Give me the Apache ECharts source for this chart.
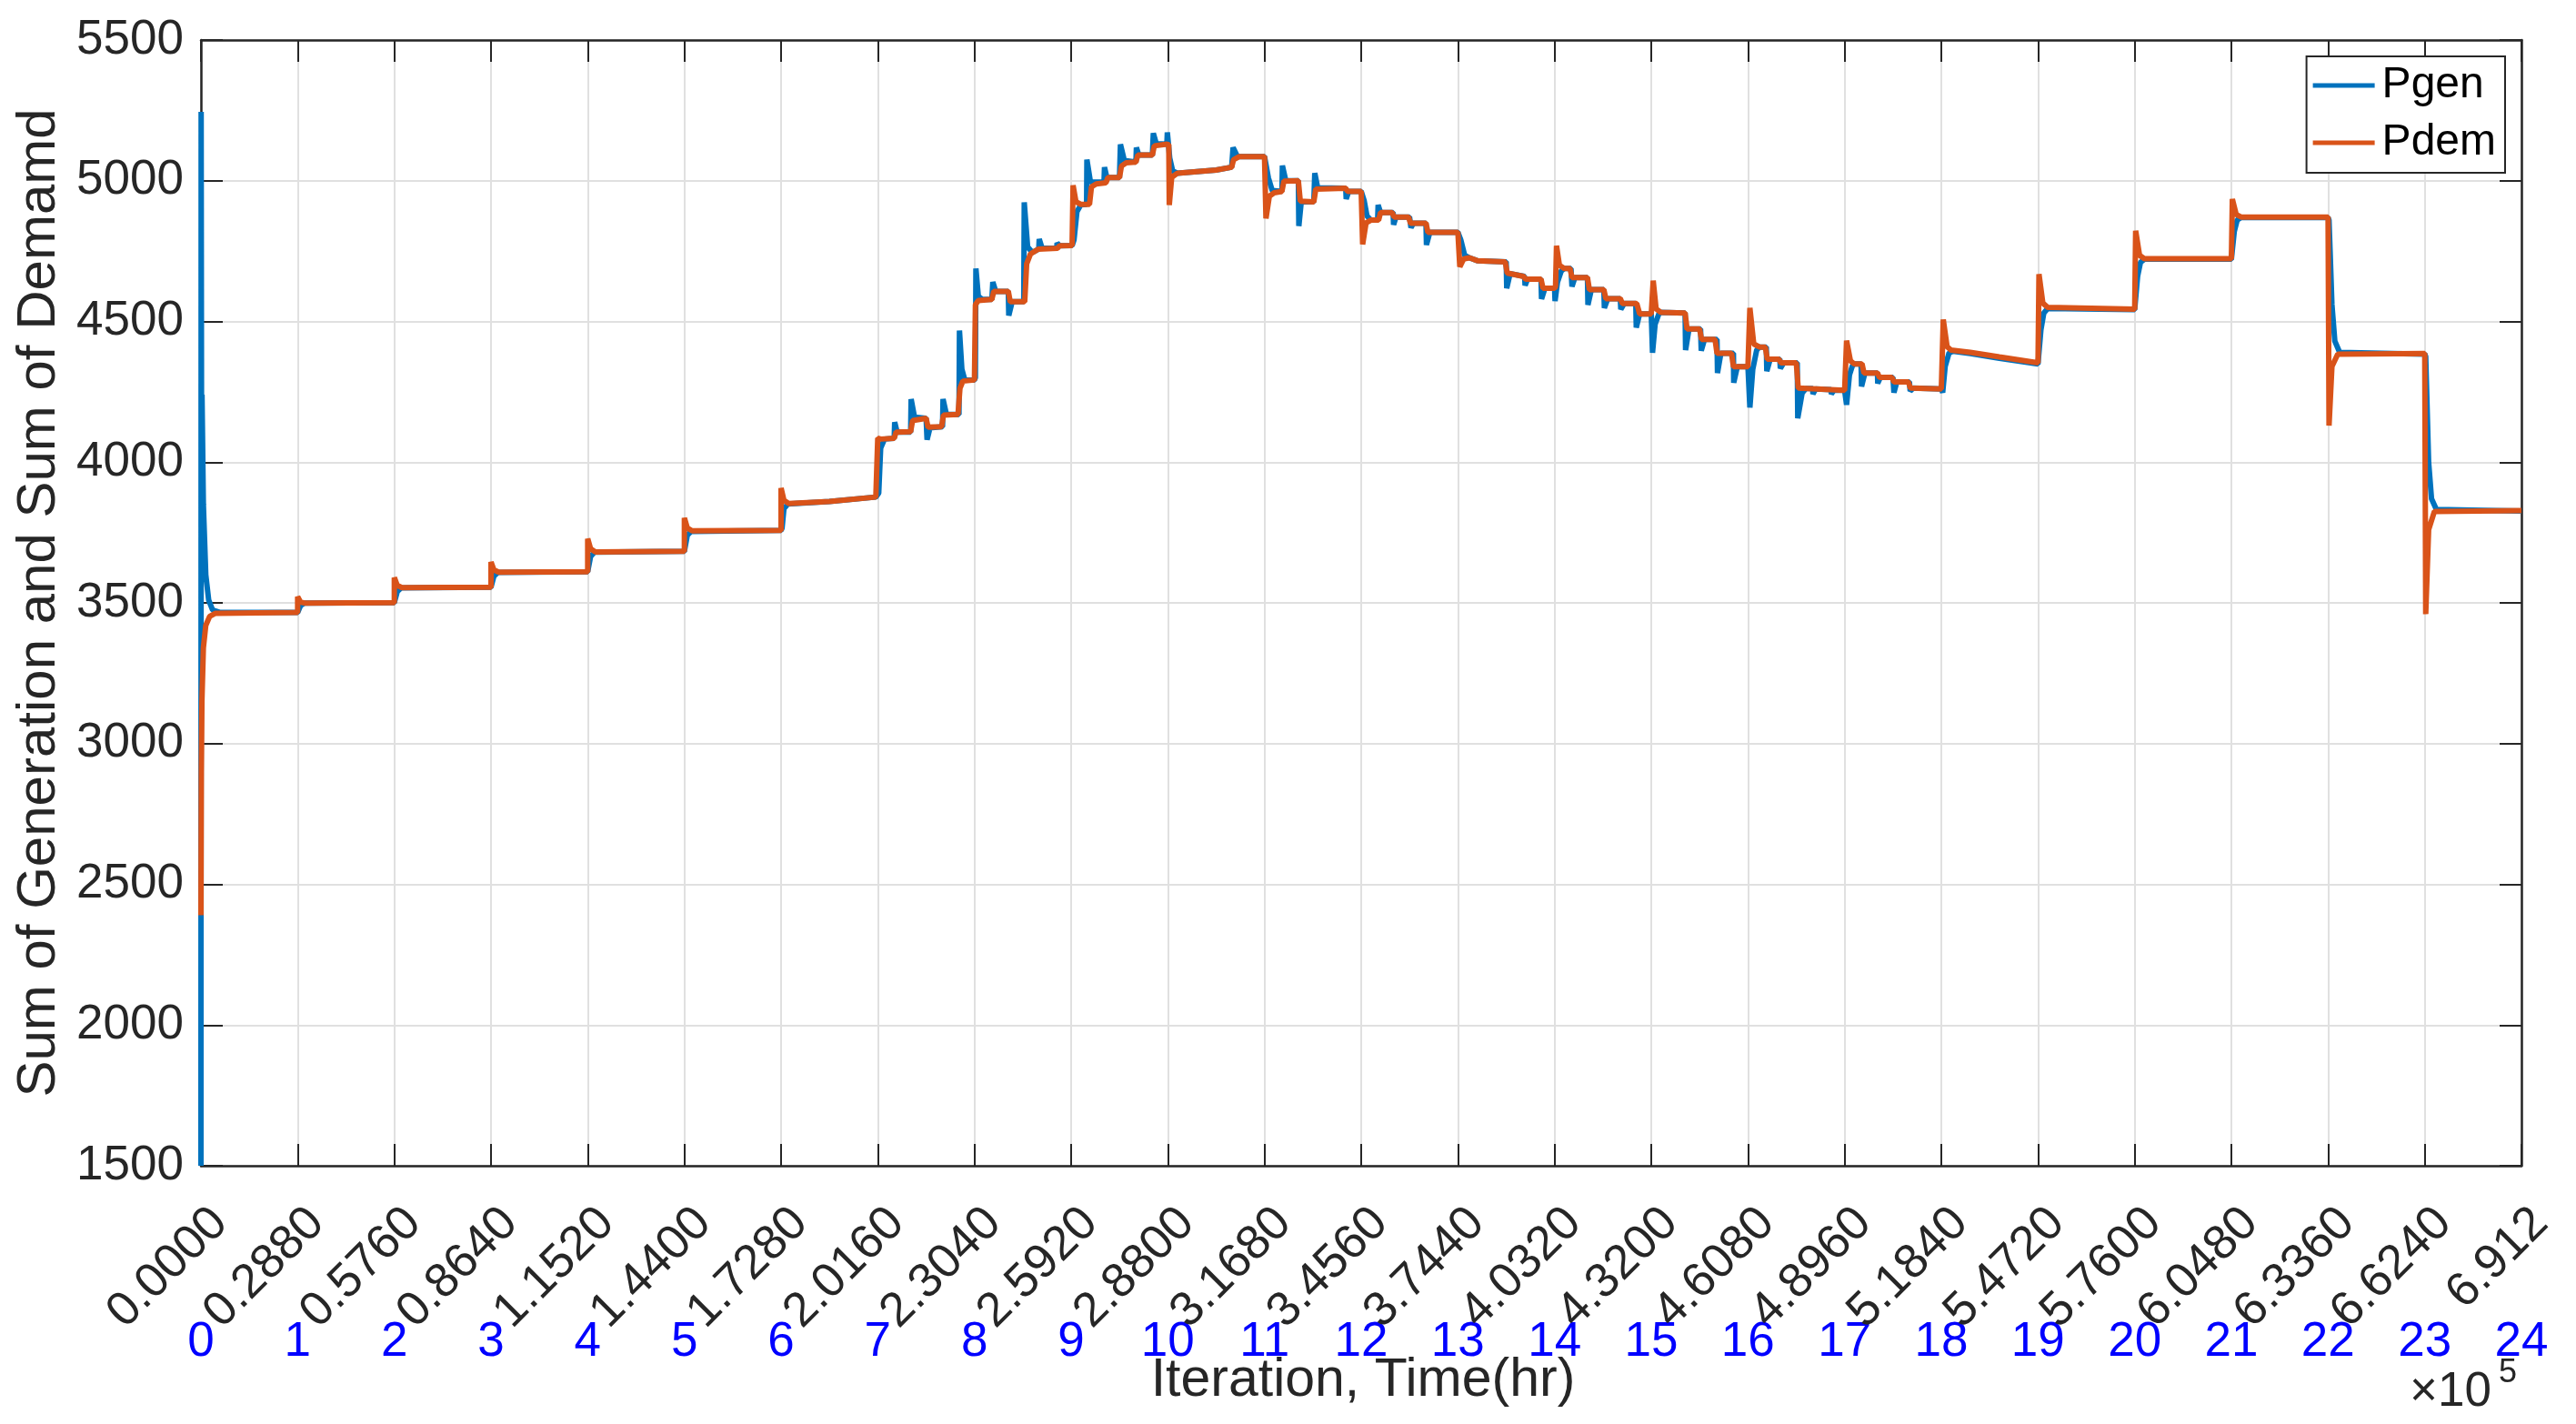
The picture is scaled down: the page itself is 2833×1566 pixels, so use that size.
<!DOCTYPE html>
<html>
<head>
<meta charset="utf-8">
<script src="https://cdn.jsdelivr.net/npm/echarts@6/dist/echarts.min.js"></script>
<style>
html,body{margin:0;padding:0;background:#fff;}
#chart{width:2833px;height:1566px;}
</style>
</head>
<body>
<div id="chart"></div>
<script>
// Tick labels (iterations x 1e5) and hour labels
const iterLabels = ["0.0000","0.2880","0.5760","0.8640","1.1520","1.4400","1.7280","2.0160","2.3040","2.5920","2.8800","3.1680","3.4560","3.7440","4.0320","4.3200","4.6080","4.8960","5.1840","5.4720","5.7600","6.0480","6.3360","6.6240","6.912"];
const hourLabels = ["0","1","2","3","4","5","6","7","8","9","10","11","12","13","14","15","16","17","18","19","20","21","22","23","24"];
const yTicks = [1500, 2000, 2500, 3000, 3500, 4000, 4500, 5000, 5500];

// Pgen: [time (hr), value]
const pgenPoints = [
[0,1500],[0.002,5245],[0.007,3900],[0.011,4240],[0.025,3850],[0.05,3600],[0.08,3510],[0.12,3475],[0.2,3466],[1.0,3466],
[1.01,3470],[1.03,3490],[1.07,3499],[2.0,3501],
[2.01,3505],[2.03,3540],[2.07,3553],[3.0,3556],
[3.01,3560],[3.03,3595],[3.07,3608],[4.0,3611],
[4.01,3615],[4.03,3665],[4.07,3680],[5.0,3683],
[5.01,3688],[5.03,3740],[5.07,3754],[6.0,3758],
[6.01,3765],[6.03,3835],[6.07,3851],[6.5,3860],[6.98,3876],
[7.01,3890],[7.03,4050],[7.07,4082],[7.17,4085],[7.175,4142],[7.2,4107],[7.34,4107],[7.345,4224],[7.38,4160],[7.5,4156],[7.51,4080],[7.54,4122],[7.67,4126],[7.675,4224],[7.71,4170],[7.84,4170],[7.845,4468],[7.87,4330],[7.9,4292],[8.0,4292],
[8.01,4300],[8.015,4688],[8.04,4590],[8.08,4578],[8.18,4578],[8.19,4640],[8.22,4607],[8.35,4607],[8.355,4521],[8.39,4570],[8.51,4570],[8.515,4923],[8.55,4765],[8.6,4745],[8.665,4757],[8.67,4793],[8.7,4760],[8.85,4760],[8.855,4779],[8.88,4769],[9.01,4770],
[9.03,4790],[9.06,4890],[9.1,4914],[9.16,4916],[9.163,5075],[9.2,4995],[9.34,4995],[9.345,5048],[9.37,5011],[9.5,5011],[9.51,5129],[9.55,5072],[9.67,5066],[9.675,5118],[9.7,5091],[9.84,5091],[9.85,5169],[9.88,5132],[9.99,5130],[9.995,5172],[10.02,5080],[10.05,5035],[10.1,5027],[10.5,5038],[10.66,5048],[10.675,5118],[10.72,5086],[11.0,5086],
[11.01,5086],[11.04,5010],[11.08,4965],[11.18,4962],[11.185,5054],[11.22,5000],[11.35,5000],[11.355,4839],[11.38,4925],[11.51,4925],[11.52,5027],[11.55,4975],[11.84,4973],[11.845,4935],[11.87,4962],[12.0,4962],
[12.01,4962],[12.03,4930],[12.06,4875],[12.1,4860],[12.17,4860],[12.175,4914],[12.2,4887],[12.33,4887],[12.335,4844],[12.36,4871],[12.5,4871],[12.515,4833],[12.54,4849],[12.67,4849],[12.675,4772],[12.71,4817],[13.0,4817],
[13.01,4817],[13.03,4790],[13.07,4735],[13.12,4726],[13.2,4716],[13.5,4712],[13.505,4618],[13.54,4670],[13.69,4660],[13.695,4628],[13.72,4650],[13.86,4650],[13.865,4580],[13.9,4618],[14.0,4618],[14.005,4572],
[14.03,4640],[14.07,4680],[14.1,4688],[14.17,4688],[14.18,4624],[14.21,4656],[14.34,4656],[14.345,4559],[14.38,4613],[14.51,4613],[14.515,4548],[14.55,4581],[14.68,4581],[14.685,4543],[14.72,4564],[14.84,4564],[14.845,4478],[14.88,4527],[15.0,4527],[15.013,4389],
[15.04,4490],[15.08,4528],[15.1,4532],[15.35,4530],[15.355,4398],[15.39,4473],[15.51,4473],[15.517,4396],[15.55,4436],[15.68,4436],[15.685,4317],[15.72,4387],[15.85,4387],[15.853,4282],[15.89,4339],[16.0,4339],[16.02,4194],
[16.05,4330],[16.09,4398],[16.12,4409],[16.19,4409],[16.195,4323],[16.23,4366],[16.33,4366],[16.335,4333],[16.37,4353],[16.51,4353],[16.515,4156],[16.56,4245],[16.6,4262],[16.67,4262],[16.672,4242],[16.7,4260],[16.86,4258],[16.862,4242],[16.89,4256],[17.0,4255],[17.02,4204],
[17.05,4310],[17.08,4342],[17.1,4349],[17.17,4349],[17.175,4269],[17.21,4317],[17.34,4317],[17.342,4280],[17.37,4301],[17.5,4301],[17.51,4247],[17.54,4285],[17.67,4285],[17.678,4253],[17.71,4263],[18.0,4260],[18.014,4247],
[18.04,4340],[18.08,4388],[18.12,4394],[18.3,4386],[18.6,4369],[19.0,4349],
[19.01,4352],[19.03,4470],[19.06,4530],[19.1,4546],[20.0,4542],
[20.01,4545],[20.03,4660],[20.06,4710],[20.1,4721],[21.0,4721],
[21.01,4724],[21.03,4820],[21.06,4860],[21.1,4869],[22.0,4869],
[22.01,4860],[22.04,4560],[22.07,4430],[22.12,4390],[23.0,4384],
[23.01,4375],[23.04,4000],[23.07,3870],[23.12,3832],[24.0,3826]
];

// Pdem: [time (hr), value]
const pdemPoints = [
[0,2390],[0.004,2900],[0.01,3150],[0.025,3340],[0.05,3420],[0.09,3452],[0.15,3463],[1.0,3466],
[1.0,3522],[1.03,3503],[1.08,3499],[2.0,3501],
[2.0,3590],[2.03,3562],[2.08,3554],[3.0,3556],
[3.0,3645],[3.03,3617],[3.08,3609],[4.0,3611],
[4.0,3728],[4.03,3692],[4.08,3681],[5.0,3683],
[5.0,3802],[5.03,3766],[5.08,3756],[6.0,3758],
[6.0,3908],[6.03,3864],[6.08,3853],[6.5,3860],[6.98,3876],
[7.0,4085],[7.03,4082],[7.17,4085],[7.19,4107],[7.34,4108],[7.36,4148],[7.5,4156],[7.52,4124],[7.66,4126],[7.68,4167],[7.83,4170],[7.85,4262],[7.88,4288],[8.0,4292],
[8.01,4560],[8.04,4574],[8.18,4578],[8.2,4607],[8.35,4607],[8.37,4570],[8.52,4570],[8.54,4705],[8.58,4740],[8.66,4757],[8.86,4760],[8.88,4769],[9.01,4770],
[9.02,4984],[9.05,4925],[9.1,4916],[9.19,4916],[9.21,4978],[9.26,4989],[9.36,4993],[9.38,5011],[9.5,5011],[9.52,5052],[9.57,5064],[9.67,5066],[9.69,5091],[9.84,5091],[9.86,5124],[9.99,5130],
[10.01,5128],[10.015,4914],[10.04,5012],[10.1,5027],[10.5,5038],[10.66,5048],[10.68,5075],[10.74,5086],[11.0,5086],
[11.01,5084],[11.015,4866],[11.05,4945],[11.1,4957],[11.18,4962],[11.2,4998],[11.35,5000],[11.37,4927],[11.51,4925],[11.53,4970],[11.84,4973],[11.86,4962],[12.0,4962],
[12.01,4960],[12.015,4774],[12.05,4850],[12.1,4860],[12.18,4860],[12.2,4887],[12.32,4887],[12.34,4871],[12.49,4871],[12.51,4849],[12.67,4849],[12.69,4817],[13.0,4817],
[13.01,4815],[13.02,4694],[13.06,4722],[13.12,4726],[13.2,4716],[13.49,4712],[13.51,4672],[13.68,4660],[13.7,4650],[13.86,4650],[13.88,4618],[14.0,4618],
[14.01,4625],[14.02,4769],[14.05,4700],[14.1,4688],[14.16,4688],[14.18,4656],[14.34,4656],[14.36,4613],[14.51,4613],[14.53,4581],[14.68,4581],[14.7,4564],[14.85,4564],[14.88,4527],[15.0,4527],
[15.01,4530],[15.02,4645],[15.05,4545],[15.1,4532],[15.35,4530],[15.37,4473],[15.5,4473],[15.52,4436],[15.66,4436],[15.68,4387],[15.83,4387],[15.85,4339],[16.0,4339],
[16.01,4345],[16.02,4548],[16.06,4420],[16.12,4409],[16.18,4409],[16.2,4366],[16.32,4366],[16.34,4353],[16.5,4353],[16.52,4263],[17.0,4255],
[17.01,4260],[17.02,4432],[17.06,4360],[17.1,4349],[17.18,4349],[17.2,4317],[17.34,4317],[17.36,4301],[17.49,4301],[17.51,4285],[17.66,4285],[17.68,4263],[18.0,4260],
[18.01,4265],[18.02,4507],[18.06,4410],[18.1,4398],[18.3,4390],[18.6,4374],[19.0,4353],
[19.01,4668],[19.05,4565],[19.1,4550],[20.0,4544],
[20.01,4822],[20.05,4735],[20.1,4723],[21.0,4723],
[21.01,4935],[21.05,4880],[21.1,4871],[22.0,4871],
[22.01,4130],[22.04,4340],[22.1,4384],[23.0,4386],
[23.01,3460],[23.04,3760],[23.1,3825],[24.0,3828]
];

const FONT = '"Liberation Sans", Arial, Helvetica, sans-serif';
const AX = '#262626';
const GRIDC = '#e0e0e0';

const chart = echarts.init(document.getElementById('chart'), null, {renderer: 'canvas'});

function baseX(extra) {
  return Object.assign({
    type: 'value', min: 0, max: 24, interval: 1,
    axisLine: {show: false, onZero: false},
    axisTick: {show: false},
    splitLine: {show: false},
    axisLabel: {show: false}
  }, extra);
}

const option = {
  animation: false,
  backgroundColor: '#ffffff',
  textStyle: {fontFamily: FONT},
  grid: [
    {left: 221, right: 60, top: 44, bottom: 284, show: false},
    {left: 242, right: 39, top: 44, bottom: 284, show: false}
  ],
  xAxis: [
    baseX({
      gridIndex: 0, position: 'bottom',
      axisLine: {show: true, onZero: false, lineStyle: {color: AX, width: 2.5}},
      axisTick: {show: true, inside: true, length: 24, lineStyle: {color: AX, width: 2}},
      splitLine: {show: true, lineStyle: {color: GRIDC, width: 2}}
    }),
    baseX({
      gridIndex: 0, position: 'top',
      axisLine: {show: true, onZero: false, lineStyle: {color: AX, width: 2.5}},
      axisTick: {show: true, inside: true, length: 24, lineStyle: {color: AX, width: 2}}
    }),
    baseX({
      gridIndex: 0, position: 'bottom',
      axisLabel: {
        show: true, margin: 168, color: '#0000ff', fontSize: 53, fontFamily: FONT,
        formatter: function (v) { return hourLabels[Math.round(v)]; }
      }
    }),
    baseX({
      gridIndex: 1, position: 'bottom',
      axisLabel: {
        show: true, rotate: 45, margin: 55, color: AX, fontSize: 53, fontFamily: FONT,
        formatter: function (v) { return iterLabels[Math.round(v)]; }
      }
    })
  ],
  yAxis: [
    {
      type: 'value', gridIndex: 0, position: 'left', min: yTicks[0], max: yTicks[yTicks.length - 1], interval: 500,
      axisLine: {show: true, onZero: false, lineStyle: {color: AX, width: 2.5}},
      axisTick: {show: true, inside: true, length: 24, lineStyle: {color: AX, width: 2}},
      splitLine: {show: true, lineStyle: {color: GRIDC, width: 2}},
      axisLabel: {show: true, margin: 19, color: AX, fontSize: 53, fontFamily: FONT,
        formatter: function (v) { return String(v); }},
      name: 'Sum of Generation and Sum of Demamd',
      nameLocation: 'middle', nameRotate: 90, nameGap: 129,
      nameTextStyle: {fontSize: 60, color: AX, fontFamily: FONT}
    },
    {
      type: 'value', gridIndex: 0, position: 'right', min: 1500, max: 5500, interval: 500,
      axisLine: {show: true, onZero: false, lineStyle: {color: AX, width: 2.5}},
      axisTick: {show: true, inside: true, length: 24, lineStyle: {color: AX, width: 2}},
      splitLine: {show: false},
      axisLabel: {show: false}
    },
    {
      type: 'value', gridIndex: 1, min: 1500, max: 5500, interval: 500, show: false
    }
  ],
  legend: {
    orient: 'vertical', right: 78, top: 62,
    padding: [8, 10, 9, 7], itemGap: 15,
    itemWidth: 68, itemHeight: 5, icon: 'rect',
    borderColor: AX, borderWidth: 2, backgroundColor: '#ffffff',
    textStyle: {fontSize: 48, color: '#000000', fontFamily: FONT, padding: [0, 0, 0, 3]},
    data: ['Pgen', 'Pdem']
  },
  series: [
    {
      name: 'Pgen', type: 'line', xAxisIndex: 0, yAxisIndex: 0,
      data: pgenPoints, showSymbol: false, symbol: 'none',
      lineStyle: {color: '#0072BD', width: 6}, itemStyle: {color: '#0072BD'},
      clip: true
    },
    {
      name: 'Pdem', type: 'line', xAxisIndex: 0, yAxisIndex: 0,
      data: pdemPoints, showSymbol: false, symbol: 'none',
      lineStyle: {color: '#D95319', width: 6}, itemStyle: {color: '#D95319'},
      clip: true
    }
  ],
  graphic: [
    {
      type: 'text', x: 1499, y: 1519,
      style: {text: 'Iteration, Time(hr)', font: '59px ' + FONT, fill: AX, textAlign: 'center', textVerticalAlign: 'middle'}
    },
    {
      type: 'text', x: 2650, y: 1531,
      style: {text: '\u00d710', font: '53px ' + FONT, fill: AX, textAlign: 'left', textVerticalAlign: 'middle'}
    },
    {
      type: 'text', x: 2748, y: 1510,
      style: {text: '5', font: '36px ' + FONT, fill: AX, textAlign: 'left', textVerticalAlign: 'middle'}
    }
  ]
};
chart.setOption(option);
</script>
</body>
</html>
